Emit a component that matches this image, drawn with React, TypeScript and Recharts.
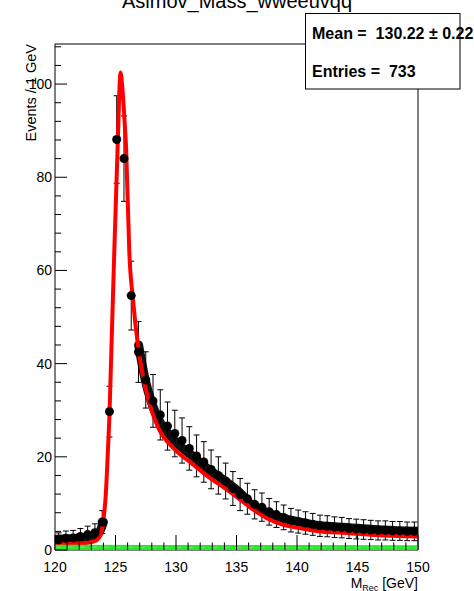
import { ComposedChart, Scatter, Line, ErrorBar, XAxis, YAxis, ReferenceArea } from 'recharts';

// histogram bins (0.6 GeV wide), Asimov data
const BIN_CENTERS = [
  120.3, 120.9, 121.5, 122.1, 122.7, 123.3, 123.9, 124.5, 125.1, 125.7,
  126.3, 126.9, 127.5, 128.1, 128.7, 129.3, 129.9, 130.5, 131.1, 131.7,
  132.3, 132.9, 133.5, 134.1, 134.7, 135.3, 135.9, 136.5, 137.1, 137.7,
  138.3, 138.9, 139.5, 140.1, 140.7, 141.3, 141.9, 142.5, 143.1, 143.7,
  144.3, 144.9, 145.5, 146.1, 146.7, 147.3, 147.9, 148.5, 149.1, 149.7,
];
const COUNTS = [
  2.2, 2.5, 2.6, 2.9, 3.3, 3.7, 6.0, 29.7, 88.1, 84.0,
  54.6, 42.5, 36.5, 32.0, 29.0, 26.6, 25.0, 23.5, 21.8, 20.2,
  18.9, 17.3, 16.0, 14.8, 13.2, 11.9, 11.0, 9.8, 9.2, 8.2,
  7.6, 7.0, 6.4, 6.1, 5.8, 5.5, 5.2, 5.1, 4.9, 4.8,
  4.6, 4.5, 4.4, 4.3, 4.2, 4.2, 4.1, 4.1, 4.0, 4.0,
];
const ERRORS = [
  1.48, 1.58, 1.61, 1.7, 1.82, 1.92, 2.45, 5.45, 9.39, 9.17,
  7.39, 6.52, 6.04, 5.66, 5.39, 5.16, 5.0, 4.85, 4.67, 4.49,
  4.35, 4.16, 4.0, 3.85, 3.63, 3.45, 3.32, 3.13, 3.03, 2.86,
  2.76, 2.65, 2.53, 2.47, 2.41, 2.35, 2.28, 2.26, 2.21, 2.19,
  2.14, 2.12, 2.1, 2.07, 2.05, 2.05, 2.02, 2.02, 2.0, 2.0,
];

// dense black band of overlapping markers (left plateau and tail)
const BAND_LEFT_X = [120, 121, 122, 123, 123.6, 124];
const BAND_LEFT_Y = [2.3, 2.4, 2.6, 3.0, 3.6, 6.0];
const BAND_TAIL_X = [
  126.91, 127.46, 128, 128.56, 129.93, 131.3, 132.68, 134.06, 135.4, 136.1,
  137.5, 138.86, 140.24, 141.6, 144.36, 147.1, 150,
];
const BAND_TAIL_Y = [
  44, 36.5, 31.5, 28, 23.3, 20.3, 17.3, 14.8, 12.0, 10.0,
  8.0, 6.8, 6.0, 5.3, 4.8, 4.3, 4.0,
];

// fitted pdf (red)
const FIT_X = [
  120, 121, 122, 122.5, 123, 123.5, 123.8, 124, 124.2, 124.35,
  124.5, 124.66, 124.9, 125.17, 125.42, 125.6, 125.75, 125.88, 126.14, 126.45,
  126.91, 127.46, 128, 128.56, 129.93, 131.3, 132.68, 134.06, 135.4, 136.1,
  137.5, 138.86, 140.24, 141.6, 144.36, 147.1, 150,
];
const FIT_Y = [
  1.3, 1.3, 1.4, 1.5, 1.7, 2.2, 3.5, 6.4, 12, 20,
  29, 43, 64, 86, 102.5, 98, 92, 86, 64, 53.6,
  42.9, 35, 29.8, 26.1, 21.5, 18.6, 15.7, 13.2, 10.6, 9.2,
  6.8, 5.4, 4.7, 4.1, 3.6, 3.1, 2.9,
];

// background component (green)
const BKG_X = [120, 130, 140, 150];
const BKG_Y = [0.6, 0.55, 0.55, 0.5];

const X_TICKS = [
  120, 121, 122, 123, 124, 125, 126, 127, 128, 129, 130, 131, 132, 133, 134, 135,
  136, 137, 138, 139, 140, 141, 142, 143, 144, 145, 146, 147, 148, 149, 150,
];
const Y_TICKS = [
  0, 4, 8, 12, 16, 20, 24, 28, 32, 36, 40, 44, 48, 52, 56, 60, 64, 68, 72, 76,
  80, 84, 88, 92, 96, 100, 104, 108,
];
const X_MIN = 120;
const X_MAX = 150;
const Y_MAX = 108.6;

const FONT = '"Liberation Sans", Arial, Helvetica, sans-serif';

const dataPoints = BIN_CENTERS.map((x, i) => ({ x, y: COUNTS[i], err: ERRORS[i] }));
const bandLeft = BAND_LEFT_X.map((x, i) => ({ x, y: BAND_LEFT_Y[i] }));
const bandTail = BAND_TAIL_X.map((x, i) => ({ x, y: BAND_TAIL_Y[i] }));
const fitPoints = FIT_X.map((x, i) => ({ x, y: FIT_Y[i] }));
const bkgPoints = BKG_X.map((x, i) => ({ x, y: BKG_Y[i] }));

function XTick(props: any) {
  const { x, y, payload } = props;
  const major = payload.value % 5 === 0;
  return (
    <g>
      <line x1={x} x2={x} y1={y} y2={y - (major ? 15 : 7.5)} stroke="#000" strokeWidth={1} />
      {major && (
        <text x={x} y={y + 22} textAnchor="middle" fontSize={14} fontFamily={FONT} fill="#000">
          {payload.value}
        </text>
      )}
    </g>
  );
}

function YTick(props: any) {
  const { x, y, payload } = props;
  const major = payload.value % 20 === 0;
  return (
    <g>
      <line x1={x} x2={x + (major ? 12 : 6)} y1={y} y2={y} stroke="#000" strokeWidth={1} />
      {major && (
        <text x={x - 3} y={y + 5} textAnchor="end" fontSize={14} fontFamily={FONT} fill="#000">
          {payload.value}
        </text>
      )}
    </g>
  );
}

const Marker = (props: any) => <circle cx={props.cx} cy={props.cy} r={4.5} fill="#000" />;

export default function App() {
  return (
    <div style={{ position: 'absolute', left: 0, top: 0, width: 474, height: 591, background: '#fff', overflow: 'hidden' }}>
      <ComposedChart width={474} height={591} margin={{ top: 44, right: 56, bottom: 11, left: 15 }}>
        <XAxis
          type="number"
          dataKey="x"
          domain={[X_MIN, X_MAX]}
          ticks={X_TICKS}
          interval={0}
          height={30}
          tickSize={0}
          tickMargin={0}
          axisLine={false}
          tickLine={false}
          tick={<XTick />}
          allowDataOverflow
        />
        <YAxis
          type="number"
          domain={[0, Y_MAX]}
          ticks={Y_TICKS}
          interval={0}
          width={40}
          tickSize={0}
          tickMargin={0}
          axisLine={false}
          tickLine={false}
          tick={<YTick />}
          allowDataOverflow
        />
        <ReferenceArea x1={X_MIN} x2={X_MAX} y1={0} y2={Y_MAX} fill="none" stroke="#000" strokeWidth={1} />
        <Line
          data={bandLeft}
          dataKey="y"
          type="monotone"
          stroke="#111"
          strokeWidth={9}
          strokeLinecap="round"
          dot={false}
          activeDot={false}
          isAnimationActive={false}
        />
        <Line
          data={bandTail}
          dataKey="y"
          type="monotone"
          stroke="#111"
          strokeWidth={9}
          strokeLinecap="round"
          dot={false}
          activeDot={false}
          isAnimationActive={false}
        />
        <Scatter data={dataPoints} dataKey="y" shape={<Marker />} isAnimationActive={false}>
          <ErrorBar dataKey="err" direction="y" width={3} stroke="#000" strokeWidth={1} />
        </Scatter>
        <Line
          data={fitPoints}
          dataKey="y"
          type="monotone"
          stroke="#ff0000"
          strokeWidth={4}
          dot={false}
          activeDot={false}
          isAnimationActive={false}
        />
        <Line
          data={bkgPoints}
          dataKey="y"
          type="linear"
          stroke="#22ee22"
          strokeWidth={5}
          dot={false}
          activeDot={false}
          isAnimationActive={false}
        />
        <Line
          data={bkgPoints}
          dataKey="y"
          type="linear"
          stroke="#9ab89a"
          strokeWidth={1.5}
          strokeDasharray="6 6"
          dot={false}
          activeDot={false}
          isAnimationActive={false}
        />
      </ComposedChart>
      <svg width={474} height={591} style={{ position: 'absolute', left: 0, top: 0 }} fontFamily={FONT}>
        <text x={237} y={7.5} textAnchor="middle" fontSize={20} fill="#000">
          Asimov_Mass_wweeuvqq
        </text>
        <text x={36} y={44} textAnchor="end" fontSize={14.5} fill="#000" transform="rotate(-90 36 44)">
          Events / 1 GeV
        </text>
        <text x={418} y={588} textAnchor="end" fontSize={14} fill="#000">
          M<tspan fontSize={9} dy={3}>Rec</tspan>
          <tspan dy={-3}> [GeV]</tspan>
        </text>
        <rect x={305.5} y={13.5} width={154.5} height={75.5} fill="#fff" stroke="#000" strokeWidth={1} />
        <text x={312} y={38.5} fontSize={16} fontWeight="bold" fill="#000" style={{ whiteSpace: 'pre' }}>
          {'Mean =  130.22 \u00b1 0.22'}
        </text>
        <text x={312} y={77} fontSize={16} fontWeight="bold" fill="#000" style={{ whiteSpace: 'pre' }}>
          {'Entries =  733'}
        </text>
      </svg>
    </div>
  );
}
